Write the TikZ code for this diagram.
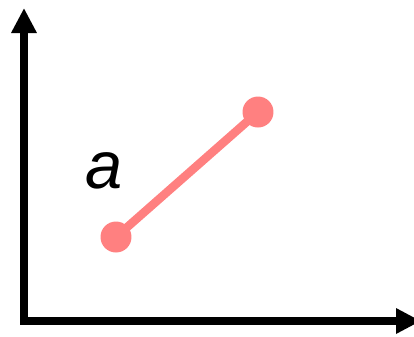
\documentclass[tikz,border=0pt]{standalone}
\usepackage{fontspec}
\setmainfont{Liberation Sans}
\usetikzlibrary{arrows.meta}

\definecolor{seg pink}{HTML}{FF8080}

\begin{document}
\begin{tikzpicture}[
  x=0.02cm, y=-0.02cm,
  axis/.style={
    line width=0.16cm,
    {Triangle[length=0.5cm, width=0.48cm]}-{Triangle[length=0.5cm, width=0.48cm]}
  },
  seg/.style={draw=seg pink, line width=0.17cm},   % the segment itself
  dot/.style={circle, fill=seg pink, inner sep=0pt, minimum size=0.62cm},
  lbl/.style={font=\fontsize{38}{40}\selectfont\itshape}
]
\useasboundingbox (0,0) rectangle (414,336);

% --- axes ---
\coordinate (top) at (24,8);
\coordinate (origin) at (24,321);
\coordinate (right) at (421,321);
\draw[axis] (top) -- (origin) -- (right);

% --- segment with its end points ---
\coordinate (p1) at (116,237);
\coordinate (p2) at (258,112);
\draw[seg] (p1) -- (p2);
\node[dot] (a1) at (p1) {};
\node[dot] (a2) at (p2) {};

% --- label ---
\node[lbl] (name) at (104,171) {a};

\end{tikzpicture}
\end{document}
